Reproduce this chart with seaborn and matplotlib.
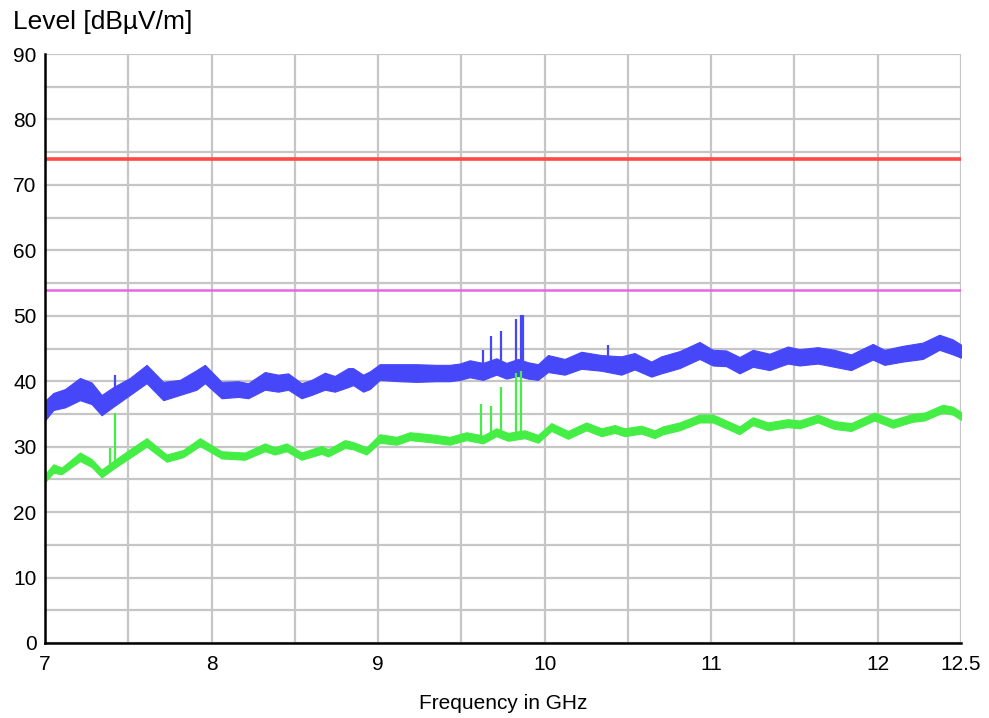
import numpy as np
import pandas as pd
import matplotlib
matplotlib.use("Agg")
import matplotlib.pyplot as plt
import seaborn as sns

# Peak detector trace: lower / upper edge of the noise band (dBµV/m)
pk_freq = [7.00, 7.05, 7.12, 7.21, 7.28, 7.34, 7.41, 7.51, 7.61, 7.71, 7.81, 7.91,
           7.96, 8.06, 8.16, 8.22, 8.32, 8.40, 8.46, 8.54, 8.60, 8.68, 8.74, 8.82,
           8.85, 8.91, 8.95, 9.01, 9.13, 9.23, 9.35, 9.43, 9.49, 9.55, 9.63, 9.71,
           9.77, 9.84, 9.90, 9.96, 10.02, 10.12, 10.22, 10.34, 10.46, 10.54, 10.64,
           10.70, 10.81, 10.93, 11.01, 11.09, 11.17, 11.25, 11.35, 11.46, 11.53,
           11.64, 11.74, 11.84, 11.97, 12.04, 12.15, 12.27, 12.37, 12.45, 12.50]
pk_lo = [34.0, 35.6, 36.0, 37.1, 36.5, 34.8, 36.1, 37.9, 39.7, 37.1, 37.9, 38.7,
         39.7, 37.4, 37.6, 37.4, 38.7, 38.4, 38.7, 37.4, 37.9, 38.7, 38.4, 39.1,
         39.4, 38.4, 38.8, 40.2, 40.0, 39.9, 40.0, 40.0, 40.2, 40.6, 40.2, 41.0,
         40.4, 40.8, 40.4, 40.2, 41.4, 41.0, 41.9, 41.6, 41.0, 41.8, 40.7,
         41.2, 42.0, 43.4, 42.4, 42.3, 41.2, 42.2, 41.7, 42.7, 42.4,
         42.7, 42.2, 41.7, 43.3, 42.5, 43.0, 43.4, 44.8, 44.1, 43.6]
pk_hi = [37.0, 38.2, 38.8, 40.5, 39.8, 37.9, 39.1, 40.5, 42.5, 39.9, 40.2, 41.7,
         42.5, 39.9, 40.0, 39.7, 41.4, 41.0, 41.2, 39.7, 40.2, 41.3, 40.8, 42.0,
         42.0, 41.0, 41.5, 42.6, 42.6, 42.6, 42.5, 42.5, 42.7, 43.2, 42.8, 43.5,
         42.8, 43.4, 42.9, 42.6, 44.0, 43.4, 44.5, 44.0, 43.8, 44.3, 43.0,
         43.8, 44.6, 46.0, 44.8, 44.7, 43.7, 44.8, 44.2, 45.3, 44.9,
         45.2, 44.8, 44.1, 45.7, 44.8, 45.4, 45.9, 47.1, 46.4, 45.6]

# Average detector trace: lower / upper edge of the band (dBµV/m)
av_freq = [7.00, 7.05, 7.10, 7.21, 7.28, 7.34, 7.41, 7.51, 7.61, 7.73, 7.83, 7.93,
           8.06, 8.20, 8.32, 8.38, 8.45, 8.54, 8.66, 8.70, 8.80, 8.85, 8.93, 9.01,
           9.11, 9.19, 9.31, 9.43, 9.53, 9.63, 9.71, 9.78, 9.88, 9.96, 10.04, 10.14,
           10.25, 10.34, 10.42, 10.48, 10.58, 10.66, 10.71, 10.81, 10.93, 11.01,
           11.09, 11.17, 11.25, 11.34, 11.46, 11.53, 11.64, 11.74, 11.84, 11.98,
           12.09, 12.21, 12.28, 12.39, 12.45, 12.50]
av_lo = [24.6, 26.0, 25.8, 27.8, 26.9, 25.3, 26.6, 28.3, 30.0, 27.7, 28.4, 30.1,
         28.2, 28.0, 29.3, 28.8, 29.3, 28.0, 28.9, 28.5, 29.8, 29.6, 28.8, 30.6,
         30.3, 31.0, 30.7, 30.3, 31.0, 30.5, 31.6, 30.9, 31.3, 30.6, 32.4, 31.2,
         32.5, 31.6, 32.1, 31.6, 32.0, 31.3, 31.9, 32.5, 33.7, 33.7,
         32.8, 31.9, 33.3, 32.5, 33.0, 32.8, 33.7, 32.7, 32.4, 34.0,
         32.9, 33.8, 34.0, 35.2, 34.9, 34.1]
av_hi = [25.8, 27.3, 26.8, 29.1, 28.1, 26.5, 27.8, 29.6, 31.3, 28.8, 29.5, 31.3,
         29.3, 29.1, 30.5, 29.9, 30.5, 29.1, 30.1, 29.6, 31.0, 30.7, 29.9, 31.9,
         31.5, 32.2, 31.9, 31.5, 32.2, 31.7, 32.8, 32.1, 32.5, 31.8, 33.6, 32.4,
         33.7, 32.8, 33.3, 32.8, 33.2, 32.5, 33.1, 33.7, 34.9, 34.9,
         34.0, 33.1, 34.5, 33.7, 34.2, 34.0, 34.9, 33.9, 33.6, 35.2,
         34.1, 35.0, 35.2, 36.4, 36.1, 35.3]

# Narrowband emissions (frequency, trace level at base, peak level)
pk_spike_freq = [7.42, 9.63, 9.68, 9.74, 9.83, 9.86, 9.87, 10.38]
pk_spike_base = [38.0, 42.0, 42.5, 42.5, 42.5, 42.5, 42.5, 43.5]
pk_spike_top = [41.0, 44.8, 46.9, 47.7, 49.5, 50.1, 50.1, 45.6]

av_spike_freq = [7.39, 7.42, 9.62, 9.68, 9.74, 9.83, 9.86]
av_spike_base = [27.0, 27.5, 31.2, 31.8, 32.3, 32.0, 32.0]
av_spike_top = [29.8, 35.1, 36.5, 36.2, 39.1, 41.3, 41.6]

# Limit lines
limit_peak = 74
limit_avg = 54
x_range = [7.0, 12.5]

x_ticks = [7, 7.5, 8, 8.5, 9, 9.5, 10, 10.5, 11, 11.5, 12, 12.5]
x_tick_labels = ["7", "", "8", "", "9", "", "10", "", "11", "", "12", "12.5"]
y_ticks = list(range(0, 91, 10))

sns.set_theme(style="white")
plt.rcParams["font.family"] = ["Liberation Sans", "DejaVu Sans"]
plt.rcParams["text.color"] = "black"
plt.rcParams["axes.labelcolor"] = "black"

BLUE = "#4747FA"
GREEN = "#44EE44"
RED = "#FF4848"
MAGENTA = "#E864E8"
GRID = "#C6C6C6"

fig = plt.figure(figsize=(9.89, 7.18), dpi=100)
ax = fig.add_axes([45 / 989, 1 - 643 / 718, (961 - 45) / 989, (643 - 54) / 718])


def band_frame(freq, lo, hi):
    return pd.DataFrame({
        "freq": np.concatenate([freq, freq]),
        "level": np.concatenate([lo, hi]),
    })


# limits
lim_df = pd.DataFrame({"freq": x_range * 2,
                       "level": [limit_peak] * 2 + [limit_avg] * 2,
                       "limit": ["peak"] * 2 + ["avg"] * 2})
sns.lineplot(data=lim_df[lim_df["limit"] == "peak"], x="freq", y="level",
             color=RED, lw=2.6, ax=ax, zorder=3)
sns.lineplot(data=lim_df[lim_df["limit"] == "avg"], x="freq", y="level",
             color=MAGENTA, lw=1.8, ax=ax, zorder=3)

# measured traces, drawn as min/max band of the sweep
for freq, lo, hi, col, lw in [(pk_freq, pk_lo, pk_hi, BLUE, 1.2),
                              (av_freq, av_lo, av_hi, GREEN, 1.0)]:
    sns.lineplot(data=band_frame(freq, lo, hi), x="freq", y="level",
                 estimator="mean", errorbar=("pi", 100), color=col, lw=lw,
                 err_kws={"alpha": 1.0, "linewidth": 0.8, "edgecolor": col},
                 ax=ax, zorder=4)

ax.vlines(pk_spike_freq, pk_spike_base, pk_spike_top, color=BLUE, lw=1.6, zorder=4)
ax.vlines(av_spike_freq, av_spike_base, av_spike_top, color=GREEN, lw=1.6, zorder=4)

ax.set_xlim(*x_range)
ax.set_ylim(0, 90)
ax.set_xticks(x_ticks)
ax.set_xticklabels(x_tick_labels)
ax.set_yticks(y_ticks)
ax.set_yticks(list(range(5, 90, 10)), minor=True)
ax.grid(True, which="both", color=GRID, lw=1.6, zorder=0)
ax.set_axisbelow(True)

for side in ["top", "right"]:
    ax.spines[side].set_visible(False)
for side in ["left", "bottom"]:
    ax.spines[side].set_color("black")
    ax.spines[side].set_linewidth(1.8)
    ax.spines[side].set_zorder(5)

ax.tick_params(axis="both", which="both", direction="inout", length=10,
               width=1.4, color="black", labelsize=15, labelcolor="black")
ax.tick_params(axis="y", pad=1)
ax.tick_params(axis="x", pad=4)

ax.set_xlabel("Frequency in GHz", fontsize=15, labelpad=14, color="black")
ax.set_ylabel("")
fig.text(13 / 989, 1 - 22 / 718, "Level [dBµV/m]", fontsize=19,
         ha="left", va="center", color="black")

fig.savefig("out.png", dpi=100)
